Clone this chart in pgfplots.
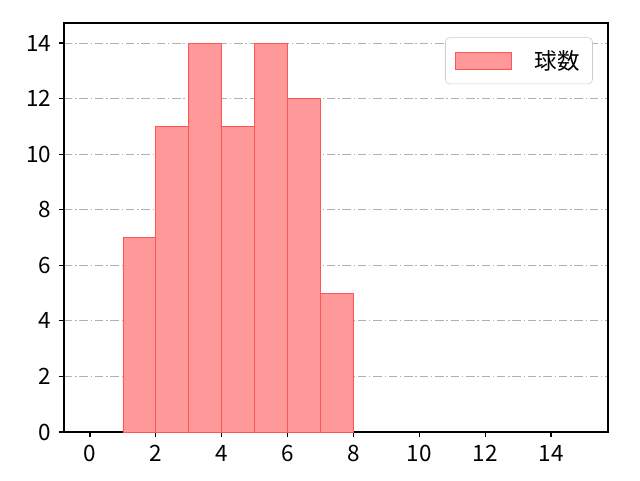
\documentclass[border=0pt]{standalone}
\usepackage{fontspec}
\setmainfont{Noto Sans CJK JP}
\usepackage{pgfplots}
\pgfplotsset{compat=1.18}
\definecolor{histfill}{HTML}{FF9999}
\definecolor{histedge}{HTML}{FF5555}
\definecolor{gridgray}{HTML}{B0B0B0}
\begin{document}
\begin{tikzpicture}
\path[use as bounding box] (-1.6cm,-1.2cm) rectangle (14.4cm,10.8cm);
\begin{axis}[
    at={(0cm,0cm)}, anchor=south west,
    scale only axis,
    width=13.6cm, height=10.225cm,
    xmin=-0.79, xmax=15.73,
    ymin=0, ymax=14.72,
    xtick={0,2,...,14}, ytick={0,2,...,14},
    tick align=outside,
    major tick length=0.13cm,
    xtick pos=bottom, ytick pos=left,
    tick style={black, line width=0.8pt},
    axis line style={black, line width=0.9pt},
    ymajorgrids,
    major grid style={gridgray, line width=0.6pt, dash pattern=on 6pt off 2pt on 1pt off 2pt},
    font=\fontsize{16}{19}\selectfont,
    /pgf/number format/assume math mode=true,
    xticklabel style={yshift=-2pt},
    yticklabel style={xshift=-2pt},
    legend style={at={(0.972,0.965)}, anchor=north east, draw=gray!40, rounded corners=3pt,
        inner xsep=7pt, inner ysep=7pt, font=\fontsize{16}{19}\selectfont},
    legend cell align=left,
    legend image code/.code={\draw[sharp corners, fill=histfill, draw=histedge, line width=0.5pt] (0cm,-0.22cm) rectangle (1.4cm,0.22cm);},
]
\addplot[ybar interval, fill=histfill, draw=histedge, line width=0.6pt] coordinates {
    (1,7) (2,11) (3,14) (4,11) (5,14) (6,12) (7,5) (8,5)
};
\addlegendentry{\hspace{0.5cm}球数}
\end{axis}
\end{tikzpicture}
\end{document}
